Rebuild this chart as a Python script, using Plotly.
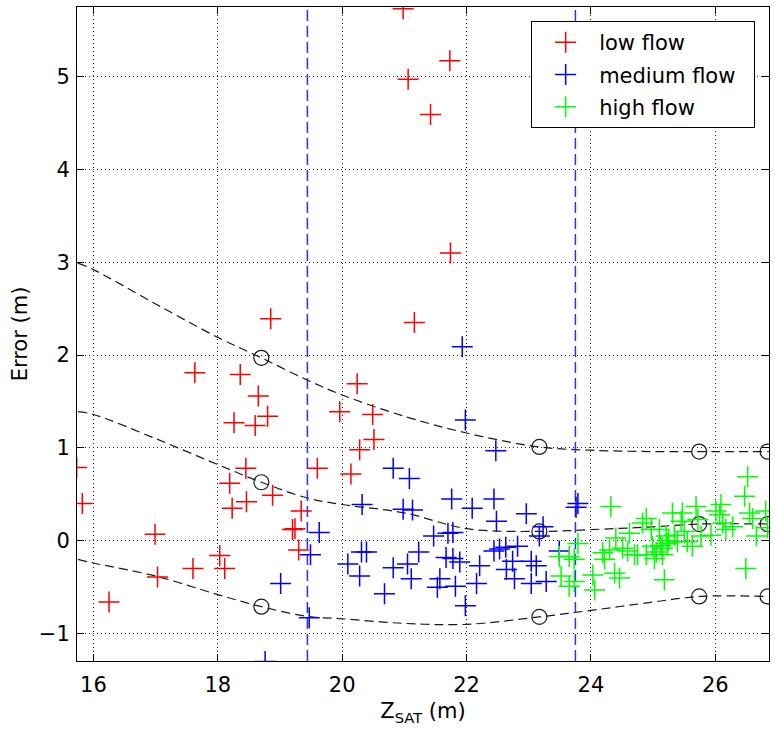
import plotly.graph_objects as go

# ---- observations: error vs. satellite water level, split by flow regime ----
low_x = [15.73, 15.82, 16.25, 16.99, 17.03, 17.60, 17.63, 18.03, 18.11, 18.19, 18.23, 18.26,
         18.36, 18.45, 18.46, 18.60, 18.65, 18.80, 18.85, 18.88, 19.20, 19.24, 19.30, 19.34,
         19.60, 19.96, 20.14, 20.24, 20.28, 20.49, 20.51, 20.98, 21.06, 21.16, 21.42, 21.73, 21.74]
low_y = [0.79, 0.40, -0.66, 0.07, -0.39, -0.30, 1.81, -0.16, -0.30, 0.62, 0.35, 1.27,
         1.79, 0.78, 0.42, 1.24, 1.56, 1.34, 2.39, 0.49, 0.12, 0.13, -0.10, 0.32,
         0.78, 1.39, 0.72, 1.69, 0.98, 1.36, 1.09, 5.73, 4.97, 2.35, 4.59, 5.17, 3.10]

med_x = [18.76, 19.01, 19.47, 19.49, 19.63, 20.09, 20.28, 20.31, 20.32, 20.39, 20.68, 20.82,
         20.82, 20.98, 21.05, 21.08, 21.11, 21.13, 21.23, 21.47, 21.53, 21.57, 21.67, 21.70,
         21.76, 21.78, 21.78, 21.82, 21.89, 21.93, 21.98, 21.98, 22.09, 22.16, 22.21, 22.44,
         22.44, 22.47, 22.48, 22.53, 22.63, 22.64, 22.74, 22.77, 22.82, 22.96, 23.04, 23.04,
         23.12, 23.17, 23.23, 23.28, 23.49, 23.76, 23.79]
med_y = [-1.30, -0.46, -0.83, -0.15, 0.09, -0.25, -0.38, -0.12, 0.39, -0.12, -0.57, 0.78,
         -0.29, 0.34, -0.25, 0.67, -0.41, 0.33, -0.12, 0.05, -0.50, -0.41, -0.18, 0.08,
         0.45, 0.09, -0.19, -0.49, -0.23, 2.09, 1.30, -0.70, 0.35, -0.46, -0.27, 0.45,
         -0.11, 0.97, 0.21, -0.09, -0.07, -0.31, -0.22, -0.41, -0.06, 0.29, -0.22, -0.46,
         -0.27, 0.05, 0.15, -0.44, -0.11, 0.36, 0.40]

high_x = [23.49, 23.52, 23.65, 23.65, 23.73, 23.73, 23.79, 24.03, 24.06, 24.19, 24.22, 24.30,
          24.32, 24.38, 24.40, 24.46, 24.51, 24.59, 24.62, 24.70, 24.75, 24.83, 24.89, 24.89,
          24.97, 24.99, 25.02, 25.05, 25.10, 25.12, 25.15, 25.15, 25.18, 25.21, 25.23, 25.25,
          25.31, 25.34, 25.39, 25.45, 25.47, 25.50, 25.55, 25.63, 25.69, 25.72, 25.77, 25.93,
          26.01, 26.07, 26.09, 26.12, 26.17, 26.28, 26.47, 26.49, 26.52, 26.55, 26.60, 26.66,
          26.81, 26.84]
high_y = [-0.17, -0.38, -0.17, -0.49, -0.20, -0.44, -0.03, -0.37, -0.53, -0.13, -0.20, -0.10,
          0.37, -0.35, 0.03, -0.40, -0.08, -0.11, 0.08, -0.15, -0.15, 0.19, 0.24, -0.15,
          0.12, -0.06, -0.19, -0.12, 0.12, -0.05, -0.08, -0.15, -0.42, 0.05, -0.03, 0.00,
          0.30, 0.06, -0.01, 0.21, 0.30, 0.10, -0.01, -0.06, 0.37, 0.23, 0.05, 0.06,
          0.32, 0.28, 0.39, 0.19, 0.12, 0.15, 0.48, -0.30, 0.69, 0.30, 0.24, 0.05,
          0.32, 0.14]

# ---- error envelope curves (upper / middle / lower) ----
env_x = [15.75, 16.0, 17.0, 18.0, 18.70, 19.44, 20.0, 21.0, 22.0, 23.17, 24.0, 25.0, 25.74, 26.86]
env_upper = [2.99, 2.92, 2.55, 2.19, 1.97, 1.73, 1.57, 1.34, 1.16, 1.01, 0.975, 0.96, 0.96, 0.96]
env_mid = [1.39, 1.36, 1.10, 0.82, 0.63, 0.46, 0.39, 0.30, 0.13, 0.10, 0.12, 0.15, 0.18, 0.18]
env_lower = [-0.20, -0.24, -0.38, -0.58, -0.71, -0.815, -0.84, -0.89, -0.90, -0.82, -0.75, -0.66, -0.60, -0.60]

# control points on the envelopes
knot_x = [18.70, 23.17, 25.74, 26.84]
knot_upper = [1.97, 1.01, 0.96, 0.96]
knot_mid = [0.63, 0.10, 0.18, 0.18]
knot_lower = [-0.71, -0.82, -0.60, -0.60]

# regime boundaries
bounds_x = [19.44, 23.75]

x_range = [15.735, 26.863]
y_range = [-1.295, 5.748]
x_ticks = [16, 18, 20, 22, 24, 26]
y_ticks = [-1, 0, 1, 2, 3, 4, 5]

FONT = "DejaVu Sans, Verdana, sans-serif"
PAD = "\u00a0\u00a0"  # keeps some room between the longest entry and the legend frame

fig = go.Figure()

for ey in (env_upper, env_mid, env_lower):
    fig.add_trace(go.Scatter(x=env_x, y=ey, mode="lines", line_shape="spline",
                             line=dict(color="#1a1a1a", width=1.2, dash="9px,5px"),
                             showlegend=False, hoverinfo="skip"))

for ky in (knot_upper, knot_mid, knot_lower):
    fig.add_trace(go.Scatter(x=knot_x, y=ky, mode="markers",
                             marker=dict(symbol="circle-open", size=15, color="#1a1a1a",
                                         line=dict(width=1.2)),
                             showlegend=False, hoverinfo="skip"))

for bx in bounds_x:
    fig.add_trace(go.Scatter(x=[bx, bx], y=y_range, mode="lines",
                             line=dict(color="#2233ff", width=1.5, dash="11px,5px"),
                             showlegend=False, hoverinfo="skip"))

series = [("low flow", low_x, low_y, "#ff0000"),
          ("medium flow" + PAD, med_x, med_y, "#0000ff"),
          ("high flow", high_x, high_y, "#00ff00")]
for name, xs, ys, col in series:
    fig.add_trace(go.Scatter(x=xs, y=ys, mode="markers", name=name, legendgroup=name,
                             marker=dict(symbol="cross-thin", size=15,
                                         line=dict(color=col, width=1.5))))

axis_common = dict(showline=True, linecolor="black", linewidth=1, mirror="ticks",
                   ticks="inside", ticklen=7, tickcolor="black", tickwidth=1,
                   showgrid=True, gridcolor="#222222", gridwidth=1, griddash="1px,3px",
                   zeroline=False, tickfont=dict(family=FONT, size=21, color="black"))

fig.update_xaxes(range=x_range, tickvals=x_ticks, **axis_common, ticklabelstandoff=5,
                 title=dict(text="Z<sub>SAT</sub> (m)", font=dict(family=FONT, size=21, color="black"),
                            standoff=7))
fig.update_yaxes(range=y_range, tickvals=y_ticks, **axis_common, ticklabelstandoff=2,
                 title=dict(text="Error (m)", font=dict(family=FONT, size=21, color="black"),
                            standoff=5))

fig.update_layout(
    width=775, height=734,
    margin=dict(l=77, r=6, t=7, b=73),
    paper_bgcolor="white", plot_bgcolor="white",
    font=dict(family=FONT, color="black"),
    legend=dict(x=0.98, y=0.9786, xanchor="right", yanchor="top",
                bgcolor="white", bordercolor="black", borderwidth=1,
                font=dict(family=FONT, size=21, color="black"),
                itemwidth=57, tracegroupgap=2),
)

fig.write_html("out.html")
